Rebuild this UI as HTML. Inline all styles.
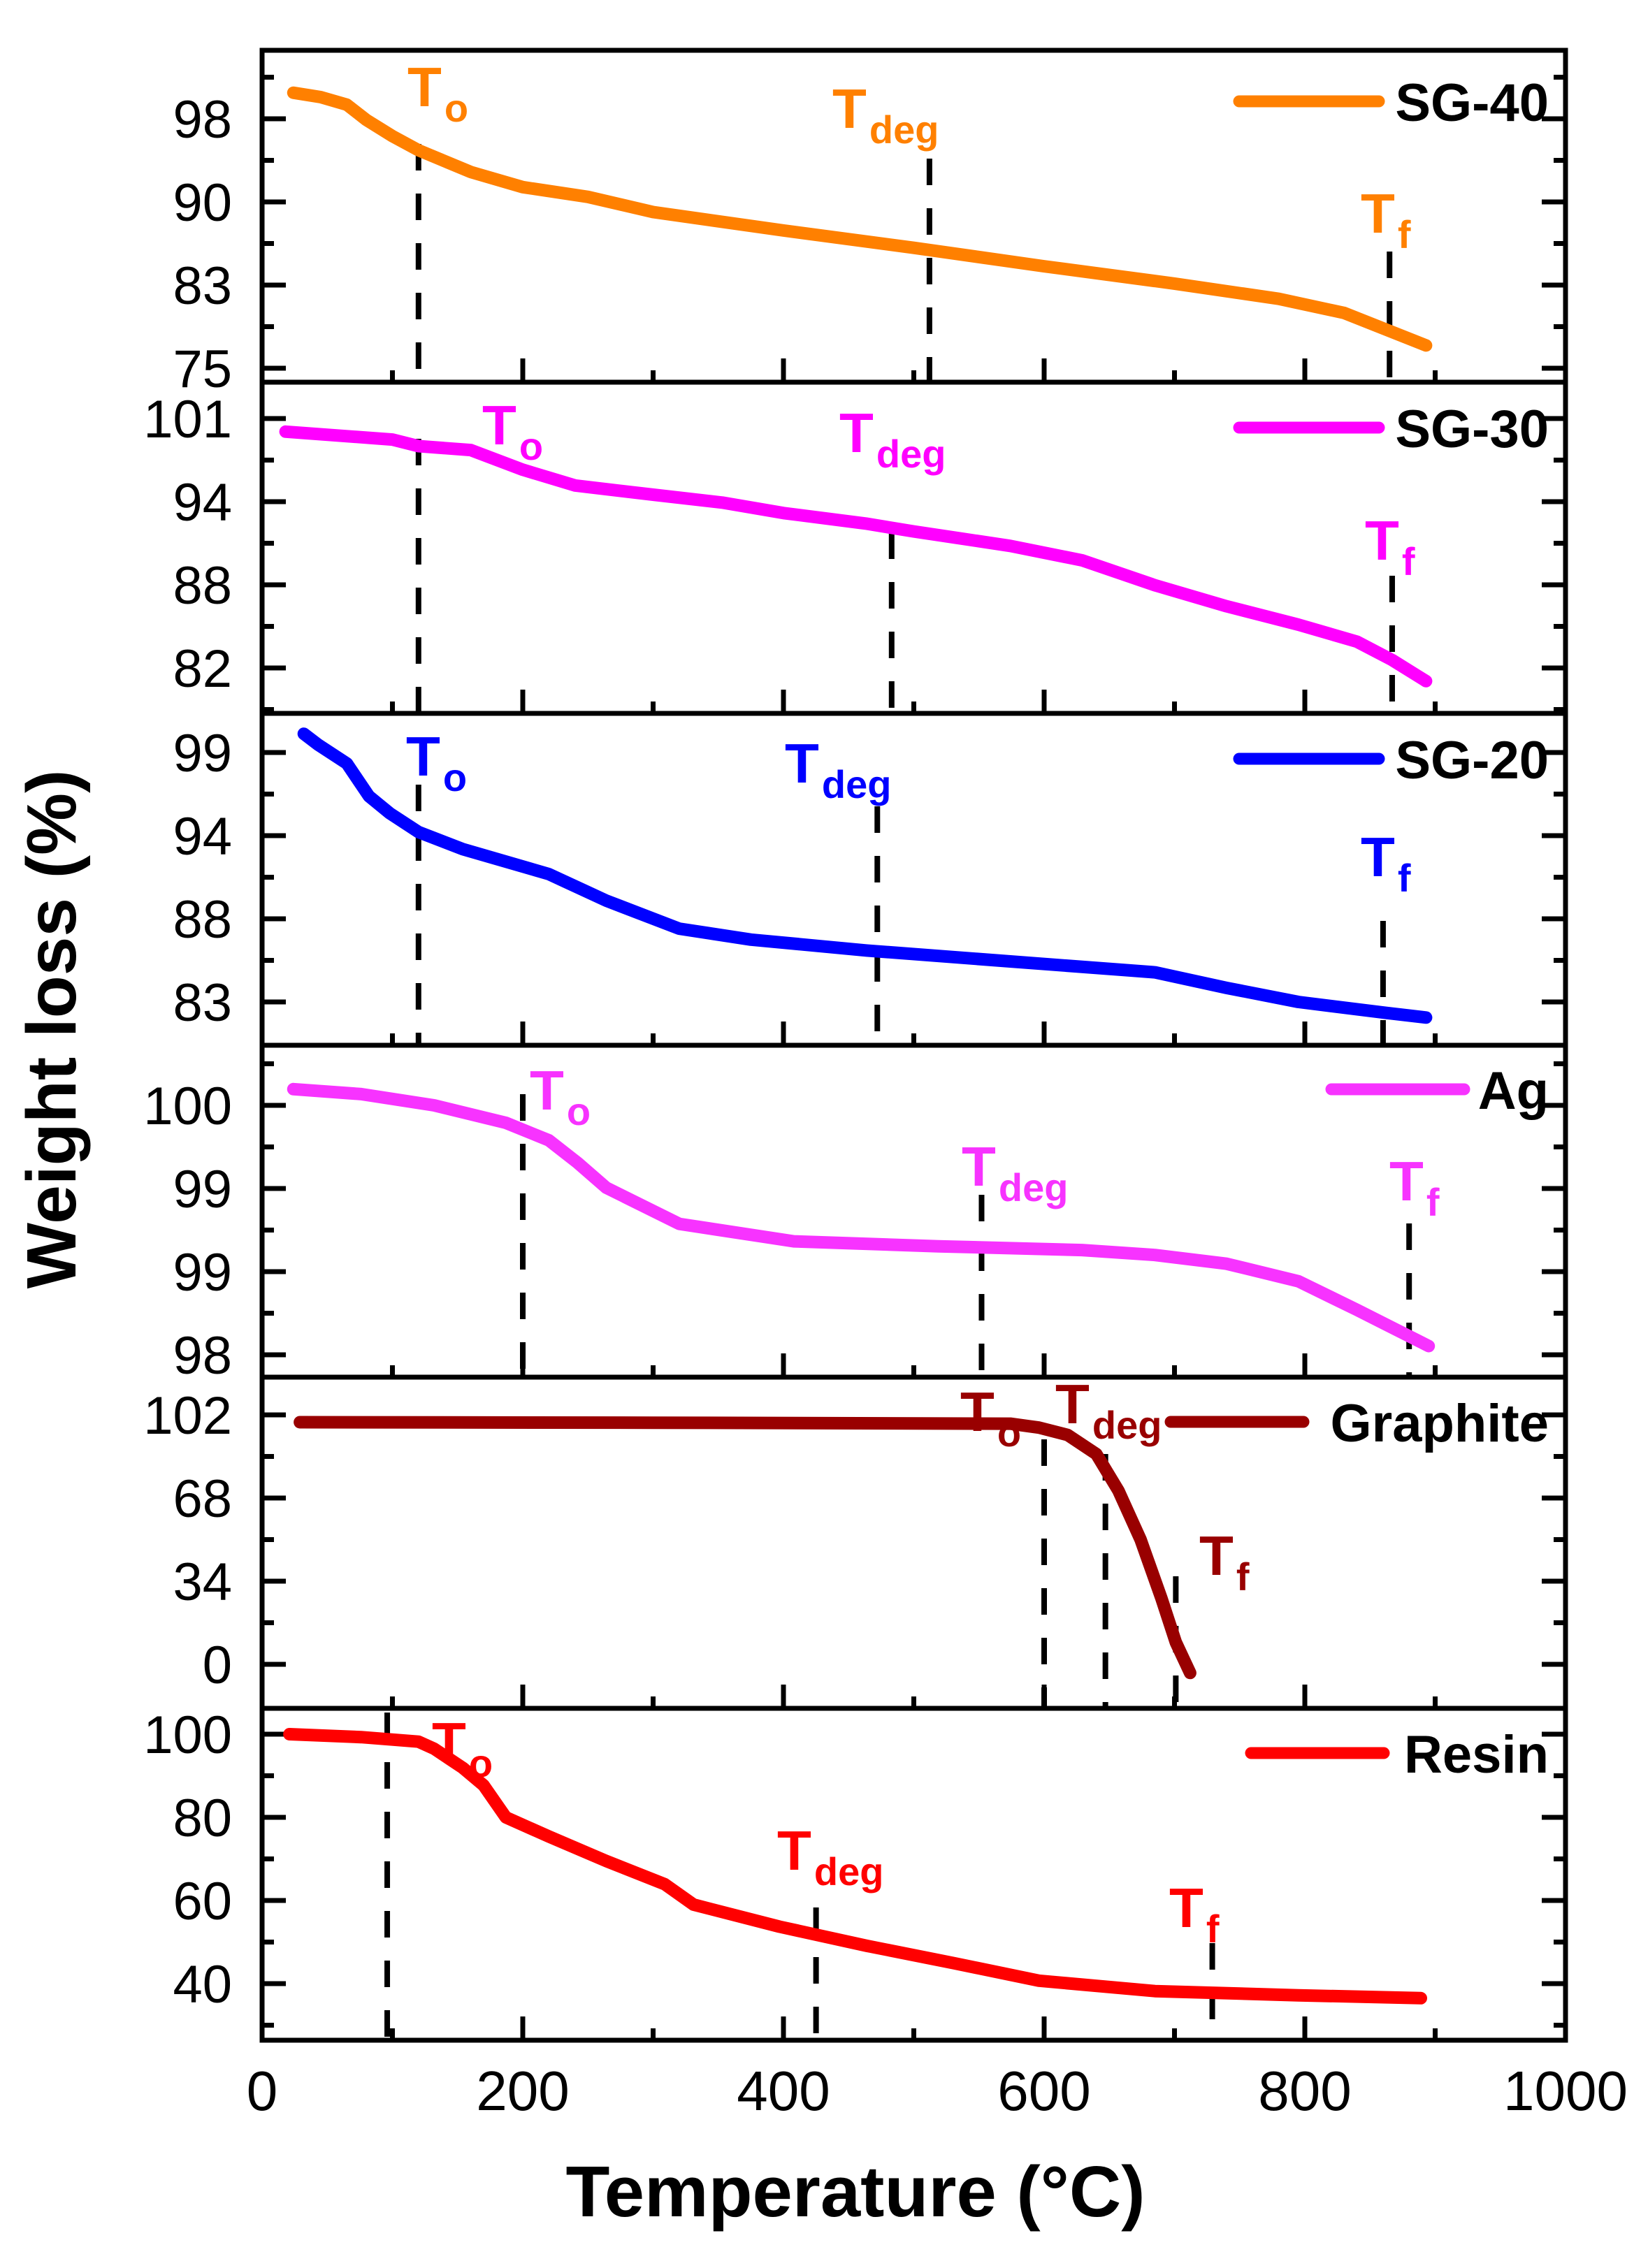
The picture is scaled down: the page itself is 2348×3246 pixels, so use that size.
<!DOCTYPE html>
<html><head><meta charset="utf-8"><style>
html,body{margin:0;padding:0;background:#fff;}
svg text{font-family:"Liberation Sans",Arial,sans-serif;}
</style></head><body>
<svg id="chart" xmlns="http://www.w3.org/2000/svg" width="2348" height="3241" viewBox="0 0 2348 3241">
<rect width="2348" height="3241" fill="#fff"/>
<g id="plots"></g>
<text x="1224" y="3172" font-size="103" font-weight="bold" text-anchor="middle">Temperature (°C)</text>
<text transform="translate(108,1473) rotate(-90)" font-size="100" font-weight="bold" text-anchor="middle">Weight loss (%)</text>
</svg>
<script>
// ---- data ----
const xTickLabels = ["0","200","400","600","800","1000"];
const xTickValues = [0,200,400,600,800,1000];

const sg40Temps  = [24,45,65,80,100,120,160,200,250,300,400,500,600,700,780,830,893];
const sg40Values = [100.4,100.0,99.3,97.9,96.4,95.1,93.1,91.7,90.8,89.4,87.7,86.1,84.4,82.8,81.4,80.1,77.1];

const sg30Temps  = [18,100,120,160,200,240,300,353,400,463,500,574,629,685,740,795,840,867,893];
const sg30Values = [100.0,99.4,98.9,98.6,97.1,95.9,95.2,94.6,93.8,93.0,92.4,91.3,90.2,88.3,86.7,85.3,84.0,82.6,81.0];

const sg20Temps  = [32,43,65,82,98,120,154,220,264,320,375,464,574,685,740,795,862,893];
const sg20Values = [100.2,99.5,98.3,96.2,95.1,93.9,92.8,91.2,89.5,87.7,87.0,86.3,85.6,84.9,83.9,83.0,82.3,82.0];

const agTemps  = [24,76,132,187,220,242,264,320,408,519,629,685,740,795,840,895];
const agValues = [100.13,100.09,100.0,99.86,99.72,99.54,99.34,99.05,98.91,98.87,98.84,98.80,98.73,98.59,98.36,98.07];

const graphiteTemps  = [29,300,574,596,618,640,657,674,690,701,712];
const graphiteValues = [99,98.8,98.4,96.8,93.8,86,71,51,27,9,-3.5];

const resinTemps  = [21,76,120,132,154,170,187,220,264,309,331,397,464,531,596,685,795,889];
const resinValues = [100,99.3,98.2,96.5,91.9,87.7,80,75.4,69.5,63.9,59,53.7,49.1,44.9,40.7,38.2,37.2,36.5];

const sg40TickLabels = ["75","83","90","98"];
const sg30TickLabels = ["82","88","94","101"];
const sg20TickLabels = ["83","88","94","99"];
const agTickLabels = ["98","99","99","100"];
const graphiteTickLabels = ["0","34","68","102"];
const resinTickLabels = ["40","60","80","100"];

const sg40Markers = [120,512,865];
const sg30Markers = [120,483,867];
const sg20Markers = [120,472,860];
const agMarkers = [200,552,880];
const graphiteMarkers = [600,647,701];
const resinMarkers = [96,425,729];

// ---- layout ----
const X0=375, X1=2240;
const tops=[72,547,1021,1496,1971,2445], BOTTOM=2920;
const panels=[
 {name:"SG-40",color:"#ff8000",t:sg40Temps,v:sg40Values,labels:sg40TickLabels,vb:75,vt:98,pt:170,mk:sg40Markers,
  mkTop:[206,227,360],lab:[[583,152],[1191,183],[1947,333]],leg:[1773,1973,145]},
 {name:"SG-30",color:"#ff00ff",t:sg30Temps,v:sg30Values,labels:sg30TickLabels,vb:82,vt:101,pt:599,mk:sg30Markers,
  mkTop:[628,762,824],lab:[[690,636],[1201,647],[1953,801]],leg:[1773,1973,612]},
 {name:"SG-20",color:"#0000ff",t:sg20Temps,v:sg20Values,labels:sg20TickLabels,vb:83,vt:99,pt:1077,mk:sg20Markers,
  mkTop:[1123,1154,1318],lab:[[581,1110],[1123,1120],[1947,1254]],leg:[1773,1973,1086]},
 {name:"Ag",color:"#f733ff",t:agTemps,v:agValues,labels:agTickLabels,vb:98,vt:100,pt:1582,mk:agMarkers,
  mkTop:[1566,1710,1751],lab:[[758,1588],[1376,1697],[1988,1718]],leg:[1905,2095,1559]},
 {name:"Graphite",color:"#990000",t:graphiteTemps,v:graphiteValues,labels:graphiteTickLabels,vb:0,vt:102,pt:2025,mk:graphiteMarkers,
  mkTop:[2060,2081,2256],lab:[[1374,2048],[1510,2037],[1716,2254]],leg:[1675,1865,2035]},
 {name:"Resin",color:"#ff0000",t:resinTemps,v:resinValues,labels:resinTickLabels,vb:40,vt:100,pt:2482,mk:resinMarkers,
  mkTop:[2451,2730,2781],lab:[[618,2521],[1112,2676],[1673,2758]],leg:[1790,1980,2509]}
];
const SPAN=357;
const NS="http://www.w3.org/2000/svg";
const g=document.getElementById('plots');
function xs(t){return X0+(t/1000)*(X1-X0);}
function mk(tag,attrs,parent){const e=document.createElementNS(NS,tag);for(const k in attrs)e.setAttribute(k,attrs[k]);(parent||g).appendChild(e);return e;}

panels.forEach((p,i)=>{
  const top=tops[i], bot=(i<5?tops[i+1]:BOTTOM);
  const pb=p.pt+SPAN;
  const ys=v=>pb-(v-p.vb)/(p.vt-p.vb)*SPAN;
  const pg=mk('g',{});
  
  
  const step=SPAN/3;
  for(let k=-2;k<=8;k++){
    const y=p.pt+k*step/2;
    if(y<top+4||y>bot-4)continue;
    const major=(k%2===0);
    const len=major?34:17;
    mk('line',{x1:X0,x2:X0+len,y1:y,y2:y,stroke:'#000','stroke-width':7},pg);
    mk('line',{x1:X1,x2:X1-len,y1:y,y2:y,stroke:'#000','stroke-width':7},pg);
    if(major&&k>=0&&k<=6){
      const idx=3-k/2;
      const tl=mk('text',{x:332,y:y+27,'font-size':76,'text-anchor':'end'},pg);
      
      
      tl.textContent=p.labels[idx];
    }
  }
  for(let t=100;t<1000;t+=100){
    const len=(t%200===0)?34:17;
    mk('line',{x1:xs(t),x2:xs(t),y1:bot,y2:bot-len,stroke:'#000','stroke-width':7},pg);
  }
  const subs=['o','deg','f'];
  p.lab.forEach((L,j)=>{
    const tx=mk('text',{x:L[0],y:L[1],'font-size':80,'font-weight':'bold',fill:p.color},pg);
    
    
    tx.textContent='T';
    const ts=mk('tspan',{'font-size':56,dy:22,dx:4},tx);
    ts.textContent=subs[j];
  });
  p.mk.forEach((t,j)=>{
    const dl=mk('line',{x1:xs(t),x2:xs(t),y1:p.mkTop[j],y2:bot,stroke:'#000','stroke-width':8,'stroke-dasharray':'38 33'},pg);
    
    
  });
  let d='';
  p.t.forEach((t,j)=>{d+=(j?'L':'M')+xs(t).toFixed(1)+','+ys(p.v[j]).toFixed(1);});
  const path=mk('path',{d:d,fill:'none',stroke:p.color,'stroke-width':18,'stroke-linecap':'round','stroke-linejoin':'round'},pg);
  
  
  const lg=mk('g',{},pg);
  
  
  mk('line',{x1:p.leg[0],x2:p.leg[1],y1:p.leg[2],y2:p.leg[2],stroke:p.color,'stroke-width':17,'stroke-linecap':'round'},lg);
  const lt=mk('text',{x:2216,y:p.leg[2]+28,'font-size':76,'font-weight':'bold','text-anchor':'end'},lg);
  lt.textContent=p.name;
  const fr=mk('rect',{x:X0,y:top,width:X1-X0,height:bot-top,fill:'none',stroke:'#000','stroke-width':7},pg);
  
  
});
xTickValues.forEach((t,j)=>{
  const tl=mk('text',{x:xs(t),y:3020,'font-size':80,'text-anchor':'middle'});
  
  
  tl.textContent=xTickLabels[j];
});
</script>
</body></html>
